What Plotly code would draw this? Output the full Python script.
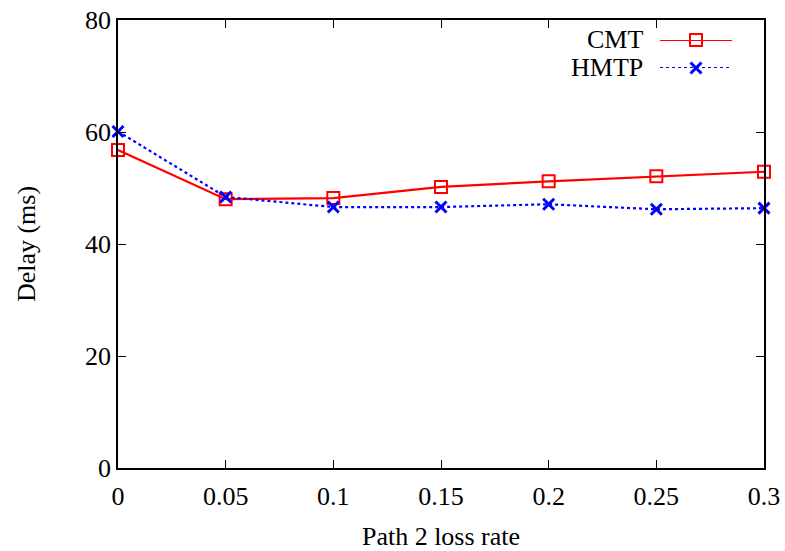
import plotly.graph_objects as go

loss_rate = [0, 0.05, 0.1, 0.15, 0.2, 0.25, 0.3]
cmt_delay = [56.8, 48.0, 48.2, 50.2, 51.2, 52.1, 52.9]
hmtp_delay = [60.1, 48.4, 46.6, 46.6, 47.1, 46.2, 46.4]
x_ticks = [0, 0.05, 0.1, 0.15, 0.2, 0.25, 0.3]
x_tick_text = ["0", "0.05", "0.1", "0.15", "0.2", "0.25", "0.3"]
y_ticks = [0, 20, 40, 60, 80]

FONT = "Liberation Serif"
FS = 26
fig = go.Figure()
fig.add_trace(go.Scatter(x=loss_rate, y=cmt_delay, mode="lines+markers", name="CMT",
                         line=dict(color="#ff0000", width=2.2),
                         marker=dict(symbol="square-open", size=12, color="#ff0000", line=dict(width=2)),
                         showlegend=False, cliponaxis=False))
fig.add_trace(go.Scatter(x=loss_rate, y=hmtp_delay, mode="lines+markers", name="HMTP",
                         line=dict(color="#0000ff", width=2.2, dash="dot"),
                         marker=dict(symbol="x-thin-open", size=11, color="#0000ff", line=dict(width=3, color="#0000ff")),
                         showlegend=False, cliponaxis=False))

# legend samples on an overlay axis
fig.add_trace(go.Scatter(x=[0, 1], y=[0, 0], xaxis="x2", yaxis="y2", mode="lines",
                         line=dict(color="#ff0000", width=2.2), showlegend=False, hoverinfo="skip", cliponaxis=False))
fig.add_trace(go.Scatter(x=[0.5], y=[0], xaxis="x2", yaxis="y2", mode="markers",
                         marker=dict(symbol="square-open", size=12, color="#ff0000", line=dict(width=2)),
                         showlegend=False, hoverinfo="skip", cliponaxis=False))
fig.add_trace(go.Scatter(x=[0, 1], y=[1, 1], xaxis="x2", yaxis="y2", mode="lines",
                         line=dict(color="#0000ff", width=2.2, dash="dot"), showlegend=False, hoverinfo="skip", cliponaxis=False))
fig.add_trace(go.Scatter(x=[0.5], y=[1], xaxis="x2", yaxis="y2", mode="markers",
                         marker=dict(symbol="x-thin-open", size=11, color="#0000ff", line=dict(width=3, color="#0000ff")),
                         showlegend=False, hoverinfo="skip", cliponaxis=False))

axis_common = dict(showgrid=False, zeroline=False, showline=True, linecolor="black", linewidth=1.5,
                   mirror="ticks", ticks="inside", ticklen=8, tickcolor="black", tickwidth=1,
                   automargin=False,
                   tickfont=dict(family=FONT, size=FS, color="black"))
H = 448
W = 646
fig.update_layout(
    width=785, height=551,
    margin=dict(l=118, r=21, t=20, b=83, autoexpand=False),
    paper_bgcolor="white", plot_bgcolor="white",
    font=dict(family=FONT, size=FS, color="black"),
    xaxis=dict(range=[0, 0.3], tickvals=x_ticks, ticktext=x_tick_text, ticklabelstandoff=4,
               title=dict(text="Path 2 loss rate", font=dict(family=FONT, size=FS), standoff=20),
               **axis_common),
    yaxis=dict(range=[0, 80], tickvals=y_ticks,
               title=dict(text="Delay (ms)", font=dict(family=FONT, size=FS), standoff=42),
               **axis_common),
    xaxis2=dict(domain=[(660 - 118) / W, (732 - 118) / W], range=[0, 1], visible=False, anchor="y2"),
    yaxis2=dict(domain=[1 - (68 - 20) / H, 1 - (40 - 20) / H], range=[1, 0], visible=False, anchor="x2"),
)
fig.add_annotation(x=(645 - 118) / W, y=1 - (40 - 20) / H, xref="paper", yref="paper", text="CMT",
                   showarrow=False, xanchor="right", yanchor="middle", font=dict(family=FONT, size=FS))
fig.add_annotation(x=(645 - 118) / W, y=1 - (68 - 20) / H, xref="paper", yref="paper", text="HMTP",
                   showarrow=False, xanchor="right", yanchor="middle", font=dict(family=FONT, size=FS))
fig.write_html("out.html")
